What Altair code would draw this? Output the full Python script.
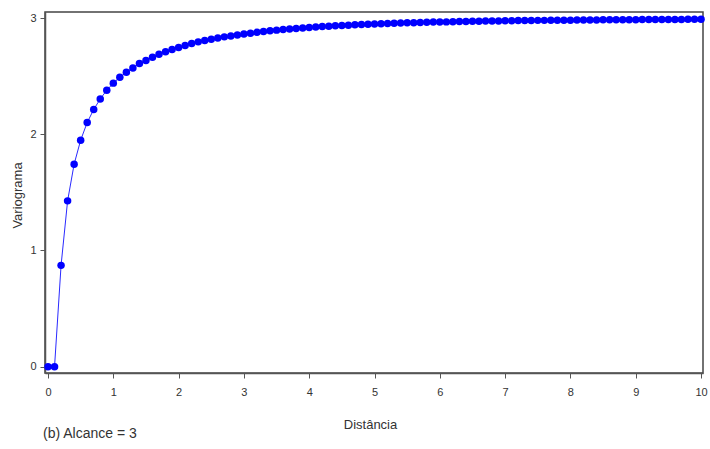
import altair as alt
import pandas as pd

# Distance lags (0 to 10, step 0.1)
distancia = [round(i * 0.1, 1) for i in range(101)]

# Variogram values at each lag
variograma = [
    0.000, 0.000, 0.872, 1.427, 1.743, 1.949, 2.101, 2.213, 2.304, 2.379,
    2.440, 2.490, 2.534, 2.571, 2.609, 2.634, 2.663, 2.689, 2.709, 2.729,
    2.746, 2.763, 2.780, 2.795, 2.806, 2.818, 2.829, 2.838, 2.846, 2.855,
    2.863, 2.870, 2.877, 2.884, 2.890, 2.896, 2.901, 2.906, 2.911, 2.915,
    2.919, 2.923, 2.927, 2.930, 2.933, 2.936, 2.939, 2.942, 2.944, 2.947,
    2.949, 2.951, 2.953, 2.955, 2.957, 2.959, 2.960, 2.962, 2.963, 2.965,
    2.966, 2.967, 2.968, 2.970, 2.971, 2.972, 2.973, 2.974, 2.975, 2.975,
    2.976, 2.977, 2.978, 2.978, 2.979, 2.980, 2.980, 2.981, 2.981, 2.982,
    2.982, 2.983, 2.983, 2.984, 2.984, 2.985, 2.985, 2.985, 2.986, 2.986,
    2.986, 2.987, 2.987, 2.987, 2.988, 2.988, 2.988, 2.988, 2.989, 2.989,
    2.989,
]

x_ticks = list(range(0, 11))
y_ticks = [0, 1, 2, 3]
caption = "(b) Alcance = 3"

df = pd.DataFrame({"Distância": distancia, "Variograma": variograma})

FONT = "Liberation Sans"
TXT = "#333333"

x_enc = alt.X(
    "Distância:Q",
    scale=alt.Scale(domain=[-0.046, 10.03], nice=False, zero=False),
    axis=alt.Axis(
        values=x_ticks, title="Distância", grid=False,
        domainColor="#555555", domainWidth=1.5,
        tickColor="#555555", tickSize=5, labelPadding=8,
        labelFont=FONT, labelFontSize=11, labelColor=TXT,
        titleFont=FONT, titleFontSize=13, titleColor=TXT, titleFontWeight="normal",
        titleX=325, titleY=51, titleBaseline="middle",
    ),
)
y_enc = alt.Y(
    "Variograma:Q",
    scale=alt.Scale(domain=[-0.054, 3.052], nice=False, zero=False),
    axis=alt.Axis(
        values=y_ticks, title="Variograma", grid=False,
        domainColor="#555555", domainWidth=1.5,
        tickColor="#555555", tickSize=5, labelPadding=4,
        labelFont=FONT, labelFontSize=11, labelColor=TXT,
        titleFont=FONT, titleFontSize=13, titleColor=TXT, titleFontWeight="normal",
        titleX=-28, titleY=183, titleBaseline="middle", titleAngle=-90,
    ),
)

base = alt.Chart(df).encode(x=x_enc, y=y_enc)

line = base.mark_line(color="#2a2aff", strokeWidth=1, clip=False)
points = base.mark_circle(color="#0000ff", opacity=1, size=56, clip=False)

label = alt.Chart(pd.DataFrame({"t": [caption]})).mark_text(
    align="left", baseline="middle", font=FONT, fontSize=14, color=TXT
).encode(text="t:N", x=alt.value(-2), y=alt.value(422))

chart = (
    alt.layer(line, points, label)
    .properties(
        width=658, height=361,
        padding={"left": 45, "top": 12, "right": 7, "bottom": 76},
        autosize=alt.AutoSizeParams(type="none"),
        background="white",
    )
    .configure_view(stroke="#444444", strokeWidth=1.5)
)

chart.save("out.html", embed_options={"renderer": "svg", "actions": False})
